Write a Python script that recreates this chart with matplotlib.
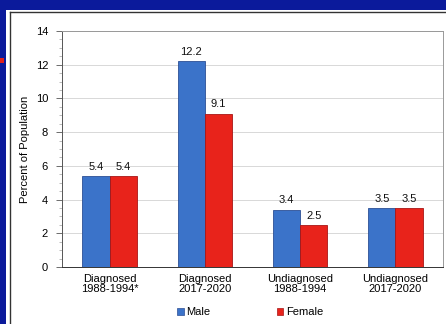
import matplotlib
matplotlib.use("Agg")
import matplotlib.pyplot as plt
import numpy as np
from matplotlib.patches import Rectangle, Patch
from matplotlib.lines import Line2D
from matplotlib.ticker import MultipleLocator

plt.rcParams['font.family'] = ['Liberation Sans', 'DejaVu Sans']

# data
groups = ["Diagnosed\n1988-1994*", "Diagnosed\n2017-2020",
          "Undiagnosed\n1988-1994", "Undiagnosed\n2017-2020"]
male = [5.4, 12.2, 3.4, 3.5]
female = [5.4, 9.1, 2.5, 3.5]
series = ["Male", "Female"]

blue = "#3b73c9"
red = "#e8231b"
fs = 8

fig = plt.figure(figsize=(4.46, 3.24), dpi=100)
fig.patch.set_facecolor("#0b1a9b")

W, H = 446.0, 324.0
# white slide panel behind the chart
fig.patches.append(Rectangle((6 / W, 0), 1, 1 - 10 / H, transform=fig.transFigure,
                             facecolor="white", edgecolor="none", zorder=-10))
fig.lines.append(Line2D([10 / W, 10 / W], [0, 1 - 12 / H], transform=fig.transFigure,
                        color="#333333", lw=1.0, zorder=-5))
fig.lines.append(Line2D([10 / W, 1], [1 - 12 / H, 1 - 12 / H], transform=fig.transFigure,
                        color="#333333", lw=1.0, zorder=-5))
fig.patches.append(Rectangle((0, 1 - 63 / H), 4 / W, 5 / H, transform=fig.transFigure,
                             facecolor="#e0201c", edgecolor="none", zorder=-5))

ax = fig.add_axes([62 / W, 1 - 267 / H, (443 - 62) / W, (267 - 31) / H])
ax.set_facecolor("white")

x = np.arange(len(groups))
w = 0.285
b1 = ax.bar(x - w / 2, male, w, color=blue, edgecolor="#2c4f95", linewidth=0.6, zorder=3)
b2 = ax.bar(x + w / 2, female, w, color=red, edgecolor="#a81515", linewidth=0.6, zorder=3)

for bars, vals in ((b1, male), (b2, female)):
    for r, v in zip(bars, vals):
        ax.text(r.get_x() + r.get_width() / 2, v + 0.25, f"{v:.1f}",
                ha="center", va="bottom", fontsize=fs, color="#111111")

ax.set_xlim(-0.5, len(groups) - 0.5)
ax.set_ylim(0, 14)
ax.yaxis.set_major_locator(MultipleLocator(2))
ax.yaxis.set_minor_locator(MultipleLocator(0.5))
ax.grid(axis="y", color="#d8d8d8", lw=0.7, zorder=0)
ax.set_xticks(x)
ax.set_xticklabels(groups, fontsize=fs, linespacing=1.05)
ax.tick_params(axis="x", length=0, pad=5)
ax.tick_params(axis="y", which="major", length=4, width=0.6, labelsize=fs, pad=6, color="#555555")
ax.tick_params(axis="y", which="minor", length=2, width=0.4, color="#888888")
for s in ax.spines.values():
    s.set_color("#999999")
    s.set_linewidth(0.7)
ax.spines["left"].set_color("#555555")
ax.spines["bottom"].set_color("#333333")
ax.set_ylabel("Percent of Population", fontsize=fs)
ax.yaxis.set_label_coords((30 - 62) / (443 - 62), 0.5)

handles = [Patch(facecolor=blue, edgecolor="#2c4f95", lw=0.5),
           Patch(facecolor=red, edgecolor="#a81515", lw=0.5)]
fig.legend(handles, series, loc="center", bbox_to_anchor=(250 / W, 1 - 312 / H),
           ncol=2, frameon=False, fontsize=fs, handlelength=0.6, handleheight=0.6,
           handletextpad=0.2, columnspacing=6.0)

fig.savefig("out.png", dpi=100, facecolor=fig.get_facecolor())
